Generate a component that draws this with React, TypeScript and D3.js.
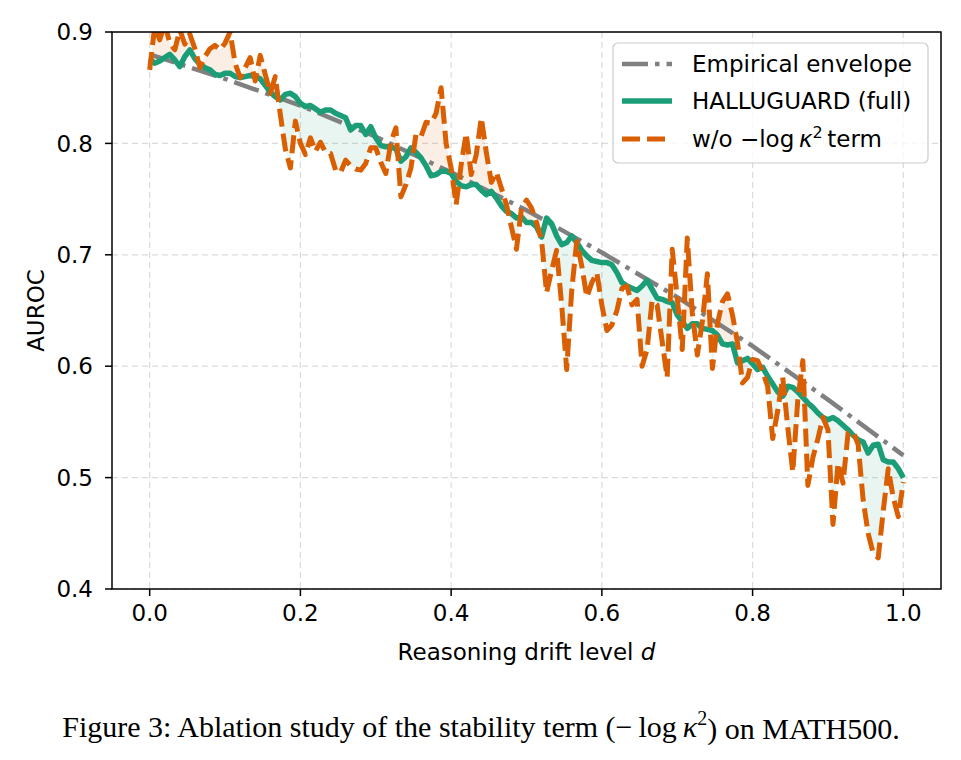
import React, { useEffect, useRef } from 'react';
import * as d3 from 'd3';

// axis ticks
const driftTicks = [0.0, 0.2, 0.4, 0.6, 0.8, 1.0];
const aurocTicks = [0.4, 0.5, 0.6, 0.7, 0.8, 0.9];

// empirical envelope, sampled every 0.1
const envelopeDrift = [0.0, 0.1, 0.2, 0.3, 0.4, 0.5, 0.6, 0.7, 0.8, 0.9, 1.0];
const envelopeAuroc = [0.880, 0.858, 0.834, 0.806, 0.774, 0.740, 0.702, 0.662, 0.618, 0.570, 0.520];

// HALLUGUARD (full), 151 drift levels from 0 to 1
const fullAuroc = [
  0.876, 0.872, 0.874, 0.877, 0.880, 0.875, 0.869, 0.878, 0.884, 0.876,
  0.871, 0.868, 0.866, 0.862, 0.861, 0.863, 0.863, 0.860, 0.859, 0.860,
  0.861, 0.860, 0.858, 0.852, 0.846, 0.842, 0.839, 0.844, 0.845, 0.842,
  0.836, 0.833, 0.834, 0.831, 0.828, 0.830, 0.830, 0.827, 0.825, 0.823,
  0.812, 0.816, 0.816, 0.808, 0.815, 0.805, 0.798, 0.797, 0.797, 0.795,
  0.784, 0.788, 0.796, 0.792, 0.787, 0.780, 0.771, 0.772, 0.775, 0.775,
  0.773, 0.766, 0.762, 0.761, 0.763, 0.763, 0.758, 0.754, 0.757, 0.751,
  0.744, 0.739, 0.737, 0.733, 0.734, 0.729, 0.729, 0.725, 0.716, 0.733,
  0.728, 0.717, 0.709, 0.711, 0.717, 0.711, 0.704, 0.699, 0.695, 0.694,
  0.693, 0.693, 0.691, 0.684, 0.675, 0.672, 0.670, 0.668, 0.672, 0.677,
  0.669, 0.661, 0.660, 0.658, 0.657, 0.646, 0.640, 0.634, 0.638, 0.638,
  0.634, 0.633, 0.632, 0.628, 0.620, 0.619, 0.620, 0.603, 0.605, 0.607,
  0.602, 0.597, 0.599, 0.591, 0.584, 0.577, 0.573, 0.582, 0.581, 0.577,
  0.572, 0.567, 0.563, 0.558, 0.554, 0.552, 0.554, 0.551, 0.547, 0.543,
  0.538, 0.534, 0.532, 0.522, 0.529, 0.530, 0.516, 0.514, 0.514, 0.508,
  0.500,
];

// without the -log kappa^2 term, same drift levels
const ablationAuroc = [
  0.866, 0.905, 0.893, 0.908, 0.890, 0.884, 0.902, 0.889, 0.898, 0.885,
  0.868, 0.878, 0.885, 0.888, 0.884, 0.890, 0.900, 0.872, 0.859, 0.868,
  0.877, 0.856, 0.879, 0.862, 0.845, 0.860, 0.826, 0.795, 0.778, 0.820,
  0.800, 0.790, 0.805, 0.793, 0.801, 0.792, 0.791, 0.776, 0.774, 0.785,
  0.780, 0.777, 0.776, 0.782, 0.796, 0.796, 0.783, 0.773, 0.801, 0.814,
  0.752, 0.763, 0.778, 0.808, 0.806, 0.819, 0.818, 0.827, 0.850, 0.800,
  0.778, 0.745, 0.781, 0.809, 0.772, 0.790, 0.823, 0.792, 0.765, 0.774,
  0.760, 0.745, 0.725, 0.705, 0.742, 0.749, 0.742, 0.729, 0.713, 0.666,
  0.686, 0.704, 0.655, 0.597, 0.668, 0.712, 0.690, 0.662, 0.675, 0.684,
  0.655, 0.632, 0.637, 0.650, 0.670, 0.672, 0.655, 0.660, 0.600, 0.615,
  0.659, 0.655, 0.622, 0.590, 0.705, 0.662, 0.615, 0.715, 0.648, 0.610,
  0.640, 0.683, 0.598, 0.638, 0.658, 0.665, 0.646, 0.621, 0.585, 0.590,
  0.606, 0.605, 0.595, 0.582, 0.535, 0.560, 0.590, 0.545, 0.505, 0.570,
  0.605, 0.493, 0.518, 0.535, 0.554, 0.543, 0.458, 0.513, 0.495, 0.540,
  0.541, 0.530, 0.480, 0.450, 0.432, 0.428, 0.470, 0.508, 0.482, 0.465,
  0.496,
];

const GRAY = '#808080';
const GREEN = '#1b9e77';
const ORANGE = '#d95f02';
const FONT = '"DejaVu Sans", sans-serif';
const FS = 23;

const W = 961;
const H = 760;
const M = { left: 112, right: 941, top: 32, bottom: 589 };

type Row = { d: number; full: number; abl: number };

// add the points where the two curves cross so the fills meet cleanly
function withCrossings(rows: Row[]): Row[] {
  const out: Row[] = [];
  rows.forEach((r, i) => {
    if (i > 0) {
      const p = rows[i - 1];
      const a = p.abl - p.full;
      const b = r.abl - r.full;
      if (a * b < 0) {
        const t = a / (a - b);
        const v = p.full + t * (r.full - p.full);
        out.push({ d: p.d + t * (r.d - p.d), full: v, abl: v });
      }
    }
    out.push(r);
  });
  return out;
}

const App = () => {
  const ref = useRef<SVGSVGElement>(null);

  useEffect(() => {
    const svg = d3.select(ref.current);
    svg.selectAll('*').remove();

    const x = d3.scaleLinear().domain([-0.05, 1.05]).range([M.left, M.right]);
    const y = d3.scaleLinear().domain([0.4, 0.9]).range([M.bottom, M.top]);

    const n = fullAuroc.length;
    const rows: Row[] = fullAuroc.map((v, i) => ({ d: i / (n - 1), full: v, abl: ablationAuroc[i] }));
    const filled = withCrossings(rows);

    svg.append('defs').append('clipPath').attr('id', 'plot-clip')
      .append('rect')
      .attr('x', M.left).attr('y', M.top)
      .attr('width', M.right - M.left).attr('height', M.bottom - M.top);

    // grid
    const grid = svg.append('g')
      .attr('stroke', '#b0b0b0').attr('stroke-opacity', 0.45)
      .attr('stroke-width', 1.2).attr('stroke-dasharray', '6,4');
    driftTicks.forEach(t => {
      grid.append('line').attr('x1', x(t)).attr('x2', x(t)).attr('y1', M.top).attr('y2', M.bottom);
    });
    aurocTicks.forEach(t => {
      grid.append('line').attr('x1', M.left).attr('x2', M.right).attr('y1', y(t)).attr('y2', y(t));
    });

    const plot = svg.append('g').attr('clip-path', 'url(#plot-clip)');

    // shaded gaps between the two curves
    const above = d3.area<Row>()
      .x(d => x(d.d)).y0(d => y(d.full)).y1(d => y(Math.max(d.full, d.abl)));
    const below = d3.area<Row>()
      .x(d => x(d.d)).y0(d => y(d.full)).y1(d => y(Math.min(d.full, d.abl)));
    plot.append('path').attr('d', above(filled)).attr('fill', ORANGE).attr('fill-opacity', 0.1);
    plot.append('path').attr('d', below(filled)).attr('fill', GREEN).attr('fill-opacity', 0.1);

    const envLine = d3.line<number>().x((_, i) => x(envelopeDrift[i])).y(v => y(v));
    plot.append('path').attr('d', envLine(envelopeAuroc))
      .attr('fill', 'none').attr('stroke', GRAY).attr('stroke-width', 4.5)
      .attr('stroke-dasharray', '26,7,4.5,7');

    const line = d3.line<Row>().x(d => x(d.d));
    plot.append('path').attr('d', line.y(d => y(d.full))(rows))
      .attr('fill', 'none').attr('stroke', GREEN).attr('stroke-width', 5.5)
      .attr('stroke-linejoin', 'round');
    plot.append('path').attr('d', line.y(d => y(d.abl))(rows))
      .attr('fill', 'none').attr('stroke', ORANGE).attr('stroke-width', 5)
      .attr('stroke-linejoin', 'round').attr('stroke-dasharray', '18,7');

    // frame and ticks
    svg.append('rect')
      .attr('x', M.left).attr('y', M.top)
      .attr('width', M.right - M.left).attr('height', M.bottom - M.top)
      .attr('fill', 'none').attr('stroke', '#000').attr('stroke-width', 1.5);

    const xt = svg.append('g').attr('font-family', FONT).attr('font-size', FS);
    driftTicks.forEach(t => {
      xt.append('line').attr('x1', x(t)).attr('x2', x(t)).attr('y1', M.bottom).attr('y2', M.bottom + 7)
        .attr('stroke', '#000').attr('stroke-width', 1.5);
      xt.append('text').attr('x', x(t)).attr('y', M.bottom + 32).attr('text-anchor', 'middle')
        .text(t.toFixed(1));
    });
    const yt = svg.append('g').attr('font-family', FONT).attr('font-size', FS);
    aurocTicks.forEach(t => {
      yt.append('line').attr('x1', M.left - 7).attr('x2', M.left).attr('y1', y(t)).attr('y2', y(t))
        .attr('stroke', '#000').attr('stroke-width', 1.5);
      yt.append('text').attr('x', M.left - 19).attr('y', y(t)).attr('dy', '0.36em')
        .attr('text-anchor', 'end').text(t.toFixed(1));
    });

    const xl = svg.append('text').attr('x', (M.left + M.right) / 2).attr('y', 660)
      .attr('text-anchor', 'middle').attr('font-family', FONT).attr('font-size', FS);
    xl.append('tspan').text('Reasoning drift level ');
    xl.append('tspan').attr('font-style', 'italic').text('d');

    svg.append('text')
      .attr('transform', `translate(44,${(M.top + M.bottom) / 2}) rotate(-90)`)
      .attr('text-anchor', 'middle').attr('font-family', FONT).attr('font-size', FS)
      .text('AUROC');

    // legend
    const lg = svg.append('g').attr('font-family', FONT).attr('font-size', FS);
    lg.append('rect').attr('x', 613).attr('y', 43).attr('width', 315).attr('height', 120).attr('rx', 5)
      .attr('fill', '#fff').attr('fill-opacity', 0.8).attr('stroke', '#cccccc').attr('stroke-width', 1.2);
    const rowsY = [64, 101, 139];
    lg.append('line').attr('x1', 622).attr('x2', 672).attr('y1', rowsY[0]).attr('y2', rowsY[0])
      .attr('stroke', GRAY).attr('stroke-width', 4.5).attr('stroke-dasharray', '26,7,4.5,7');
    lg.append('line').attr('x1', 622).attr('x2', 672).attr('y1', rowsY[1]).attr('y2', rowsY[1])
      .attr('stroke', GREEN).attr('stroke-width', 5.5);
    lg.append('line').attr('x1', 622).attr('x2', 672).attr('y1', rowsY[2]).attr('y2', rowsY[2])
      .attr('stroke', ORANGE).attr('stroke-width', 5).attr('stroke-dasharray', '18,7');
    lg.append('text').attr('x', 692).attr('y', rowsY[0]).attr('dy', '0.36em').text('Empirical envelope');
    lg.append('text').attr('x', 692).attr('y', rowsY[1]).attr('dy', '0.36em').text('HALLUGUARD (full)');
    const t3 = lg.append('text').attr('x', 692).attr('y', rowsY[2]).attr('dy', '0.36em');
    t3.append('tspan').text('w/o \u2212log\u2009');
    t3.append('tspan').attr('font-style', 'italic').text('\u03ba');
    t3.append('tspan').attr('font-size', 16).attr('dy', '-0.6em').text('2');
    t3.append('tspan').attr('dy', '0.42em').text('\u2009term');

    // caption
    const cap = svg.append('text').attr('x', 481).attr('y', 737).attr('text-anchor', 'middle')
      .attr('font-family', '"Liberation Serif", "Times New Roman", serif').attr('font-size', 30);
    cap.append('tspan').text('Figure 3: Ablation study of the stability term (\u2212\u2009log\u2009');
    cap.append('tspan').attr('font-style', 'italic').text('\u03ba');
    cap.append('tspan').attr('font-size', 20).attr('dy', '-0.6em').text('2');
    cap.append('tspan').attr('dy', '0.45em').text(') on MATH500.');
  }, []);

  return (
    <svg ref={ref} width={W} height={H}
      style={{ position: 'absolute', left: 0, top: 0, background: '#fff' }} />
  );
};

export default App;
